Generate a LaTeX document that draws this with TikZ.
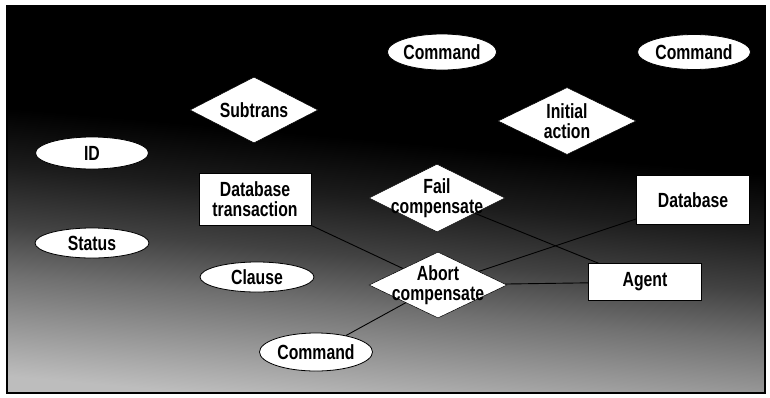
\documentclass[tikz,border=0pt]{standalone}
\usepackage{fontspec}
\setmainfont{Liberation Sans}[FakeStretch=0.77]
\usetikzlibrary{shapes.geometric}
\definecolor{bgLow}{gray}{0.74}
\definecolor{bgA}{gray}{0.44}
\definecolor{bgB}{gray}{0.26}
\definecolor{bgC}{gray}{0.11}
% dark at the top, fading to light grey at the bottom
\pgfdeclareverticalshading{bgfade}{100bp}{color(0bp)=(bgLow); color(25bp)=(bgLow); color(37bp)=(bgA); color(43bp)=(bgB); color(50bp)=(bgC); color(57bp)=(black); color(100bp)=(black)}
\begin{document}
\begin{tikzpicture}[x=1pt,y=-1pt,
  lbl/.style={font=\fontsize{20.5}{19.5}\selectfont\bfseries, align=center, inner sep=0pt},
  ent/.style={lbl, rectangle, draw=black, line width=0.6pt, fill=white, minimum width=113pt},
  attr/.style={lbl, ellipse, draw=black, line width=0.8pt, fill=white, minimum width=113pt, minimum height=32pt},
  rel/.style={diamond, draw=black, line width=0.5pt, fill=white, inner sep=0pt},
  link/.style={draw=black, line width=0.9pt}]
\useasboundingbox (0,0) rectangle (770,397);
\shade[shading=bgfade, shading angle=-5] (7,6) rectangle (765,393);
\draw[line width=1.2pt] (7,6) rectangle (765,393);

% attributes
\node[attr, minimum width=107pt, minimum height=36pt] (cmdA) at (442,52) {Command};
\node[attr, minimum height=35pt] (cmdB) at (694,52) {Command};
\node[attr, minimum height=32pt] (id) at (92,153) {ID};
\node[attr, minimum width=114pt, minimum height=30pt] (status) at (92,243) {Status};
\node[attr, minimum width=114pt, minimum height=30pt] (clause) at (257,277) {Clause};
\node[attr, minimum height=38pt] (cmdC) at (316,352) {Command};

% entities
\node[ent, minimum width=112pt, minimum height=52pt] (dbt) at (255,199) {Database\\transaction};
\node[ent, minimum height=49pt] (db) at (693,200) {Database};
\node[ent, minimum height=37pt] (agent) at (645,282) {Agent};

% relationships
\node[rel, minimum width=128pt, minimum height=66pt] (subtrans) at (254,110) {};
\node[lbl] (subtranstxt) at (subtrans) {Subtrans};
\node[rel, minimum width=138pt, minimum height=67pt] (initact) at (567,121) {};
\node[lbl] (initacttxt) at (initact) {Initial\\action};
\node[rel, minimum width=136pt, minimum height=68pt] (fail) at (437,198) {};
\node[lbl] (failtxt) at (fail) {Fail\\compensate};
\node[rel, minimum width=138pt, minimum height=66pt] (abort) at (438,285) {};
\node[lbl] (aborttxt) at (abort) {Abort\\compensate};

% connectors
\draw[link] (dbt) -- (abort);
\draw[link] (abort) -- (agent);
\draw[link] (abort) -- (db);
\draw[link] (fail) -- (agent);
\draw[link] (abort) -- (cmdC);
\end{tikzpicture}
\end{document}
